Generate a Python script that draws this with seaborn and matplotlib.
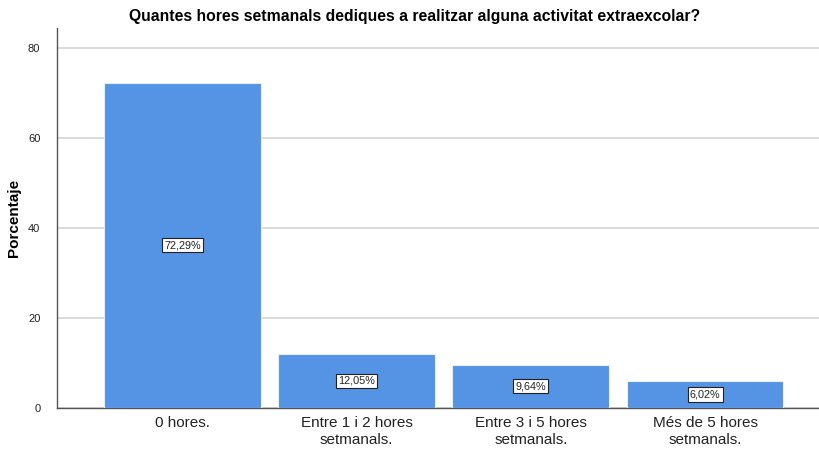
import matplotlib
matplotlib.use("Agg")
import matplotlib.pyplot as plt
import seaborn as sns
import pandas as pd

categories = ["0 hores.", "Entre 1 i 2 hores\nsetmanals.", "Entre 3 i 5 hores\nsetmanals.", "Més de 5 hores\nsetmanals."]
percentages = [72.29, 12.05, 9.64, 6.02]
labels = ["72,29%", "12,05%", "9,64%", "6,02%"]
yticks = [0, 20, 40, 60, 80]

sns.set_style("white")
plt.rcParams['font.family'] = ['Liberation Sans', 'DejaVu Sans']

df = pd.DataFrame({"cat": categories, "pct": percentages})

fig = plt.figure(figsize=(8.2, 4.5), dpi=100)
ax = fig.add_axes([0.0695, 0.0933, 0.9305, 0.8445])
sns.barplot(data=df, x="cat", y="pct", color="#5594E4", saturation=1, width=0.9,
            edgecolor="#E8EEF8", linewidth=0.8, ax=ax, zorder=3)

ax.set_xlim(-0.72, 3.66)
ax.set_ylim(0, 84.4)
ax.set_yticks(yticks)
ax.yaxis.grid(True, color="#DADADA", linewidth=1.4, zorder=0)
ax.set_axisbelow(True)
for s in ["top", "right"]:
    ax.spines[s].set_visible(False)
ax.spines["left"].set_color("#555555")
ax.spines["bottom"].set_color("#555555")
ax.spines["left"].set_linewidth(1.0)
ax.spines["bottom"].set_linewidth(1.0)
ax.tick_params(axis="y", labelsize=8, length=0, pad=12, colors="#222222")
ax.tick_params(axis="x", labelsize=11, length=0, pad=6, colors="#222222")
ax.set_xlabel("")
ax.set_ylabel("Porcentaje", fontsize=11, fontweight="bold", color="black")
ax.yaxis.set_label_coords(-0.047, 0.5)
fig.suptitle("Quantes hores setmanals dediques a realitzar alguna activitat extraexcolar?",
             fontsize=11.3, fontweight="bold", x=0.505, y=0.98, color="black")

for i, (v, lab) in enumerate(zip(percentages, labels)):
    ax.text(i, v / 2, lab, ha="center", va="center", fontsize=7.8, color="#222222", zorder=5,
            bbox=dict(boxstyle="square,pad=0.2", facecolor="white", edgecolor="#222222", linewidth=0.8))

fig.savefig("out.png", dpi=100)
